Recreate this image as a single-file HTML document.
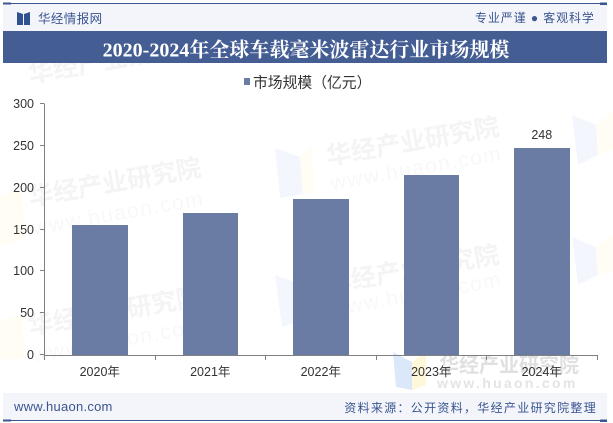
<!DOCTYPE html>
<html lang="zh">
<head>
<meta charset="utf-8">
<style>
html,body{margin:0;padding:0;background:#fff}
#page{position:relative;width:613px;height:423px;overflow:hidden;background:#fff;font-family:"Liberation Sans","Noto Sans CJK SC",sans-serif}
svg{position:absolute;left:0;top:0}
</style>
</head>
<body>
<div id="page">
<svg id="chart" width="613" height="423" viewBox="0 0 613 423">
  <g id="watermarks" font-family='"Liberation Sans","Noto Sans CJK SC",sans-serif'>
    <g>
      <polygon points="275,148 300,157 303,194 280,198" fill="#f3f7fd"/>
      <polygon points="300,157 312,146 314,190 303,194" fill="#fffdf4"/>
      <polygon points="275,275 300,284 303,320 282,327" fill="#f3f7fd"/>
      <polygon points="0,195 22,190 24,240 0,245" fill="#fffdf4"/>
      <polygon points="0,320 22,315 24,358 0,360" fill="#fffdf4"/>
      <polygon points="572,115 596,125 598,155 578,165" fill="#f3f7fd"/>
      <polygon points="596,125 613,112 613,150 598,155" fill="#fffdf4"/>
      <polygon points="572,237 596,247 598,275 578,285" fill="#f3f7fd"/>
      <polygon points="596,247 613,235 613,272 598,275" fill="#fffdf4"/>
      <polygon points="393,352 412,362 412,390 396,387" fill="#dbe8fa"/>
      <polygon points="412,362 426,352 426,385 412,390" fill="#fff7da"/>
    </g>
    <g fill="#f4f4f4" font-weight="700">
      <text x="30" y="83" font-size="25" transform="rotate(-10 30 83)">华经产业研究院</text>
      <text x="30" y="206" font-size="25" transform="rotate(-10 30 206)">华经产业研究院</text>
      <text x="30" y="335" font-size="25" transform="rotate(-10 30 335)">华经产业研究院</text>
      <text x="328" y="165" font-size="25" transform="rotate(-10 328 165)">华经产业研究院</text>
      <text x="328" y="293" font-size="25" transform="rotate(-10 328 293)">华经产业研究院</text>
    </g>
    <g fill="#f8f8f8" font-size="21">
      <text x="34" y="235" transform="rotate(-10 34 235)" letter-spacing="1.5">www.huaon.com</text>
      <text x="34" y="362" transform="rotate(-10 34 362)" letter-spacing="1.5">www.huaon.com</text>
      <text x="332" y="190" transform="rotate(-10 332 190)" letter-spacing="1.5">www.huaon.com</text>
      <text x="332" y="316" transform="rotate(-10 332 316)" letter-spacing="1.5">www.huaon.com</text>
    </g>
    <text x="439" y="372" font-size="20" font-weight="700" fill="#e0e0e0">华经产业研究院</text>
    <text x="437" y="388" font-size="14" font-weight="700" letter-spacing="2.3" fill="#e4e4e4">www.huaon.com</text>
  </g>

  <g id="y-axis"></g>
  <g id="x-axis"></g>
  <g id="bars"></g>

  <g>
    <rect x="244" y="78" width="6" height="7" fill="#6a7ca4"/>
    <text x="253" y="87.5" font-size="14.8" fill="#333">市场规模（亿元）</text>
  </g>

  <g>
    <rect x="3" y="4" width="604" height="27" fill="#f3f5fa"/>
    <rect x="3" y="3" width="604" height="1" fill="#3b5791"/>
    <rect x="3" y="2.5" width="8" height="2" fill="#3b5791"/>
    <rect x="600" y="2.5" width="7" height="2.5" fill="#3b5791"/>
    <polygon points="17,12 23,14 23,25 17,25" fill="#2f5191"/>
    <polygon points="30,12 24,14 24,25 30,25" fill="#2f5191"/>
    <text x="38" y="23" font-size="12.5" letter-spacing=".4" fill="#3a5590">华经情报网</text>
    <text x="475" y="22" font-size="12" letter-spacing=".9" fill="#3a5590">专业严谨 ● 客观科学</text>
    <rect x="3" y="31" width="604" height="32" fill="#445e94"/>
    <text x="306" y="56.5" text-anchor="middle" font-size="20" font-weight="700" fill="#ffffff" font-family='"Liberation Serif","Noto Serif CJK SC",serif'>2020-2024年全球车载毫米波雷达行业市场规模</text>
  </g>

  <g>
    <rect x="3" y="393" width="604" height="27" fill="#f3f5fa"/>
    <rect x="3" y="420" width="604" height="1" fill="#3b5791"/>
    <rect x="3" y="419.5" width="8" height="2" fill="#3b5791"/>
    <rect x="600" y="419.5" width="7" height="2.5" fill="#3b5791"/>
    <text x="14" y="411" font-size="13" letter-spacing=".25" fill="#3a5590">www.huaon.com</text>
    <text x="597" y="412" text-anchor="end" font-size="12" letter-spacing="1.3" fill="#3a5590">资料来源：公开资料，华经产业研究院整理</text>
  </g>
</svg>
</div>
<script>
var categories = ['2020年', '2021年', '2022年', '2023年', '2024年'];
var marketSize = [155, 170, 187, 215, 248];
var printedValues = ['', '', '', '', '248'];
var yTicks = [0, 50, 100, 150, 200, 250, 300];

var NS = 'http://www.w3.org/2000/svg';
var plotLeft = 44.5, plotRight = 597, plotBottom = 355, plotTop = 104, yMax = 300;

function yScale(v) { return plotBottom - (v / yMax) * (plotBottom - plotTop); }
function bandStart(i) { return plotLeft + i * (plotRight - plotLeft) / categories.length; }
function bandWidth() { return (plotRight - plotLeft) / categories.length; }
function make(tag, attrs, parent) {
  var el = document.createElementNS(NS, tag);
  for (var k in attrs) { el.setAttribute(k, attrs[k]); }
  parent.appendChild(el);
  return el;
}

var yAxis = document.getElementById('y-axis');
var xAxis = document.getElementById('x-axis');
var barsGroup = document.getElementById('bars');

var yLine = make('line', {x1: plotLeft, x2: plotLeft, y1: yScale(yMax), y2: plotBottom, stroke: '#808080'}, yAxis);



yTicks.forEach(function (t) {
  var y = Math.round(yScale(t)) + 0.5;
  var tick = make('line', {x1: 40, x2: plotLeft, y1: y - 1, y2: y - 1, stroke: '#808080'}, yAxis);
  
  
  var label = make('text', {x: 34, y: y + 3.5, 'text-anchor': 'end', 'font-size': 12.5, fill: '#333'}, yAxis);
  label.textContent = String(t);
  
  
});

var xLine = make('line', {x1: plotLeft - 0.5, x2: plotRight + 0.5, y1: plotBottom + 0.5, y2: plotBottom + 0.5, stroke: '#808080'}, xAxis);



for (var j = 0; j <= categories.length; j++) {
  var xt = Math.floor(bandStart(j)) + 0.5;
  var xTick = make('line', {x1: xt, x2: xt, y1: plotBottom, y2: plotBottom + 5, stroke: '#808080'}, xAxis);
  
  
}

categories.forEach(function (c, i) {
  var w = bandWidth() / 2;
  var x = bandStart(i) + bandWidth() / 4;
  var left = Math.round(x);
  var right = Math.ceil(x + w);
  var top = Math.round(yScale(marketSize[i]));
  var bar = make('rect', {x: left, y: top, width: right - left, height: plotBottom - top, fill: '#6a7ca4'}, barsGroup);
  
  

  var label = make('text', {x: x + w / 2, y: 376, 'text-anchor': 'middle', 'font-size': 12.5, fill: '#333'}, xAxis);
  label.textContent = c;
  
  

  if (printedValues[i]) {
    var value = make('text', {x: x + w / 2, y: top - 9, 'text-anchor': 'middle', 'font-size': 12.5, fill: '#333'}, barsGroup);
    value.textContent = printedValues[i];
    
    
  }
});
</script>
</body>
</html>
